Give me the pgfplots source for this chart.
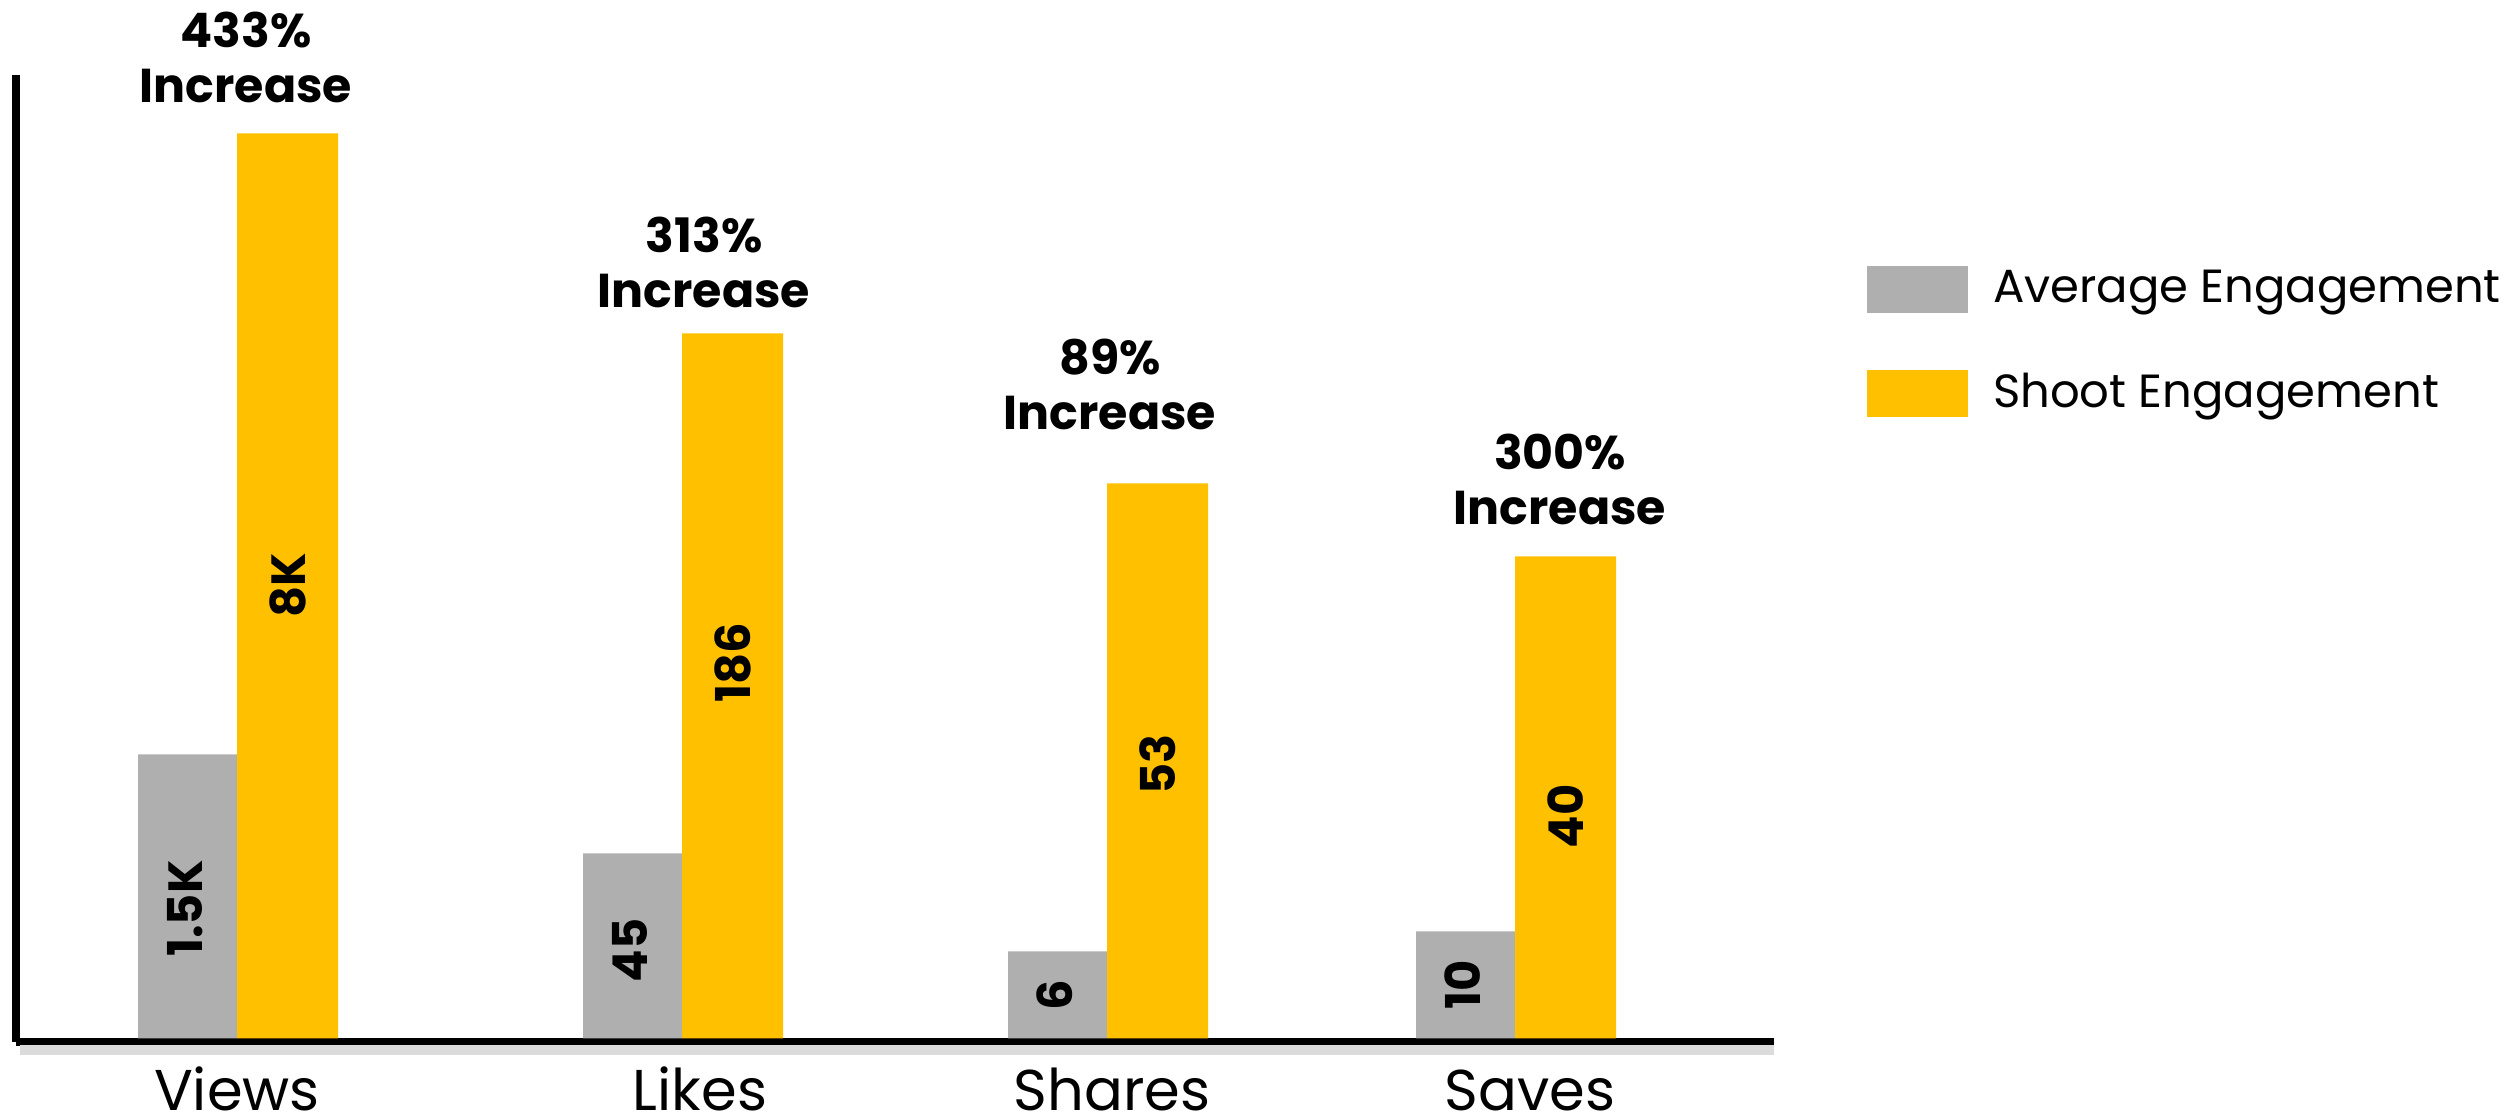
\documentclass[border=0pt]{standalone}
\usepackage{fontspec}
\setmainfont{Poppins}
\usepackage{pgfplots}
\usepackage{pgfplotstable}
\pgfplotsset{compat=1.18}
\definecolor{avggray}{HTML}{AFAFAF}
\definecolor{shootyel}{HTML}{FFC000}

% bar heights as drawn (picture units), offset d of the value label below the bar top
\pgfplotstableread{
x y d label
237 284 154 1.5K
682 185 97 45
1107 87 44 6
1515 107 53 10
}\avgdata
\pgfplotstableread{
x y d label
237 905 452 8K
682 705 329 186
1107 555 281 53
1515 482 260 40
}\shootdata
\pgfplotstableread{
x y p
246 935 433
704 730 313
1110 608 89
1560 513 300
}\anndata

\begin{document}
\begin{tikzpicture}
\path[use as bounding box] (-3.2pt,-15.9pt) rectangle (500.8pt,207.7pt);
\begin{axis}[
  at={(0pt,0pt)}, anchor=origin,
  scale only axis,
  width=351.6pt, height=193.3pt,
  xmin=16, xmax=1774, ymin=-3.5, ymax=963,
  enlargelimits=false,
  clip=false,
  axis x line=bottom, axis y line=left,
  axis line style={-, black, line width=1.5pt},
  xtick={237,700,1112,1530},
  xticklabels={Views,Likes,Shares,Saves},
  ytick=\empty,
  major tick length=0pt,
  xticklabel style={anchor=base, yshift=-13.8pt, inner sep=0pt, font=\fontsize{11.5}{13}\selectfont},
  legend style={at={(axis description cs:1.0529,0.8024)}, anchor=north west,
    draw=none, fill=none, inner sep=0pt, outer sep=0pt,
    nodes={inner sep=0pt}, column sep=5pt, row sep=11.4pt,
    font=\fontsize{9.3}{11}\selectfont},
  legend cell align=left,
]
\draw[black!14, line width=2pt] (axis cs:20,-12) -- (axis cs:1774,-12);
\addplot[ybar, bar width=99, bar shift=-49.5, fill=avggray, draw=none,
  legend image code/.code={\fill[avggray] (0pt,-4.7pt) rectangle (20.2pt,4.7pt);},
  point meta=explicit symbolic,
  visualization depends on={\thisrow{d} \as \dd},
  nodes near coords,
  every node near coord/.append style={shift={(axis direction cs:-52,-\dd)}, rotate=90, anchor=center, inner sep=0pt, text=black, font=\bfseries\fontsize{9.6}{11}\selectfont},
] table[x=x, y=y, meta=label] {\avgdata};
\addlegendentry{Average Engagement}
\addplot[ybar, bar width=101, bar shift=50.5, fill=shootyel, draw=none,
  legend image code/.code={\fill[shootyel] (0pt,-4.7pt) rectangle (20.2pt,4.7pt);},
  point meta=explicit symbolic,
  visualization depends on={\thisrow{d} \as \dd},
  nodes near coords,
  every node near coord/.append style={shift={(axis direction cs:50.5,-\dd)}, rotate=90, anchor=center, inner sep=0pt, text=black, font=\bfseries\fontsize{9.6}{11}\selectfont},
] table[x=x, y=y, meta=label] {\shootdata};
\addlegendentry{Shoot Engagement}
\addplot[draw=none, mark=none, forget plot,
  point meta=explicit symbolic,
  nodes near coords={\pgfplotspointmeta\%\\Increase},
  every node near coord/.append style={anchor=south, align=center, inner sep=0pt, text=black, font=\bfseries\fontsize{9.5}{11}\selectfont},
] table[x=x, y=y, meta=p] {\anndata};
\end{axis}
\end{tikzpicture}
\end{document}
